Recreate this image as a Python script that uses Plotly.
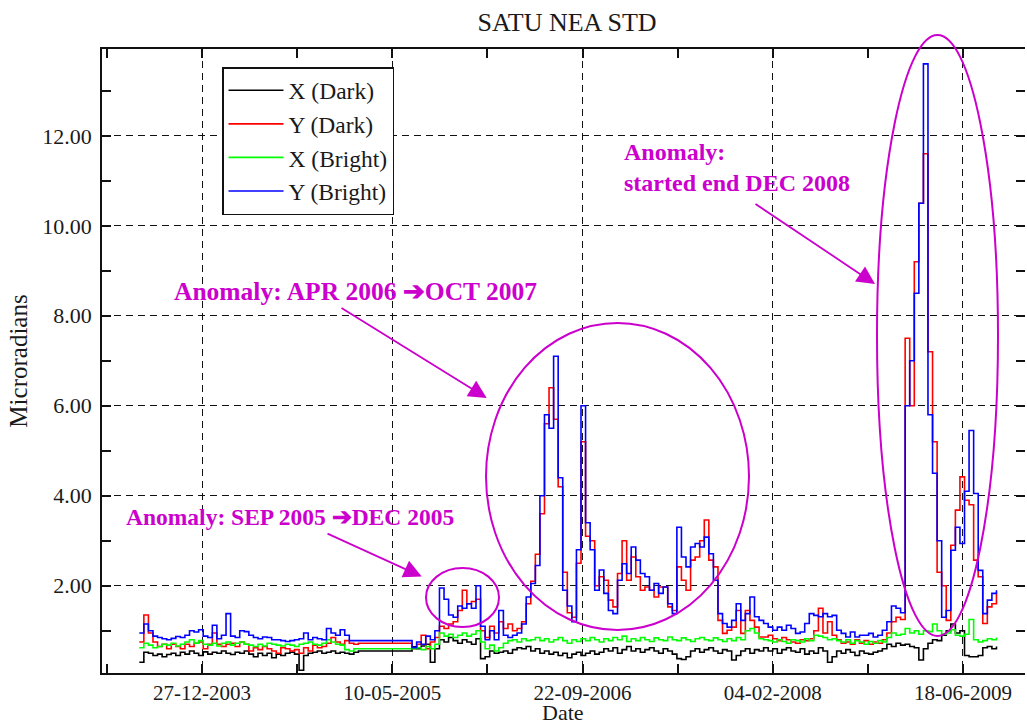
import pandas as pd
import plotly.graph_objects as go

# ---------------- data ----------------
# Sampling: every 12 days; segment A (before the data gap), segment B (after it)
seg_a_start = "2003-07-15"
seg_b_start = "2005-07-01"
step = "12D"

x_dark_a = [0.3,0.52,0.5,0.45,0.48,0.42,0.47,0.5,0.45,0.52,0.48,0.55,0.5,0.45,0.53,0.48,0.52,0.5,0.55,0.5,
            0.47,0.52,0.5,0.55,0.48,0.42,0.5,0.45,0.5,0.4,0.48,0.45,0.5,0.52,0.48,0.12,0.45,0.5,0.52,0.55,
            0.5,0.52,0.55,0.5,0.52,0.5,0.48,0.52,0.55]
y_dark_a = [0.75,1.35,0.95,0.75,0.65,0.7,0.6,0.7,0.65,0.6,0.7,0.65,0.72,0.75,0.6,0.7,0.95,0.7,0.65,0.7,
            0.72,0.65,0.75,0.7,0.55,0.62,0.58,0.65,0.6,0.55,0.5,0.62,0.6,0.55,0.58,0.5,0.62,0.55,0.68,0.62,
            0.65,0.72,0.85,0.75,0.7,0.78,0.72,0.7,0.72]
x_bright_a = [0.62,0.72,0.68,0.62,0.65,0.7,0.68,0.72,0.66,0.7,0.75,0.8,0.72,0.78,0.7,0.68,0.72,0.66,0.72,0.75,
              0.68,0.72,0.75,0.7,0.68,0.65,0.7,0.66,0.72,0.7,0.68,0.66,0.7,0.68,0.65,0.7,0.72,0.75,0.7,0.68,
              0.72,0.8,0.75,0.7,0.68,0.58,0.55,0.6,0.6]
y_bright_a = [0.95,1.15,1.0,0.88,0.85,0.82,0.8,0.83,0.87,0.85,0.9,1.0,0.97,1.02,0.88,0.85,1.12,0.82,0.9,1.38,
              0.88,0.85,1.0,0.98,0.9,0.85,0.82,0.86,0.85,0.8,0.8,0.78,0.76,0.78,0.8,0.82,0.95,0.8,0.85,0.82,
              0.8,1.05,0.95,0.9,1.02,0.9,0.78,0.78,0.78]

x_dark_b = [0.64,0.6,0.66,0.7,0.3,0.6,0.8,0.75,0.85,0.78,0.72,0.8,0.75,0.7,0.82,0.38,0.42,0.55,0.5,0.52,
            0.55,0.5,0.58,0.62,0.6,0.65,0.55,0.6,
            0.5,0.55,0.48,0.52,0.45,0.5,0.4,0.48,0.52,0.45,0.5,0.55,0.48,0.52,
            0.6,0.55,0.62,0.5,0.58,0.65,0.55,0.6,0.52,0.58,0.62,0.55,0.5,0.6,0.55,0.48,
            0.38,0.36,0.42,0.55,0.6,0.52,0.58,0.62,0.55,
            0.5,0.58,0.55,0.35,0.45,0.55,0.6,0.5,0.58,0.55,0.62,
            0.55,0.6,0.5,0.58,0.62,0.55,0.52,0.6,0.48,0.55,0.5,0.62,
            0.55,0.3,0.42,0.55,0.5,0.58,0.52,0.45,0.55,0.5,0.48,0.52,0.55,0.6,0.7,0.65,0.72,0.68,
            0.7,0.65,0.62,0.35,0.6,0.72,0.8,0.78,0.9,1.0,1.15,0.95,1.0,0.45,0.42,0.42,0.45,0.62,0.65,0.6,0.65]
y_dark_b = [0.6,0.7,0.9,0.6,0.75,0.85,1.1,1.05,1.15,1.2,1.45,1.9,1.6,1.65,1.7,1.0,0.85,1.1,0.95,1.2,
            1.05,1.15,1.0,1.05,1.2,1.6,2.1,2.7,
            3.6,5.6,6.4,5.7,4.2,2.3,1.4,1.3,2.5,5.2,3.1,3.0,2.0,2.2,
            2.12,1.68,1.53,2.27,3.0,2.12,2.64,2.2,1.9,1.97,1.9,1.75,1.97,1.97,1.53,1.45,
            2.42,2.12,1.9,2.57,2.64,3.0,3.46,2.57,2.42,
            1.23,0.94,1.01,1.08,1.45,0.94,1.45,1.23,1.08,0.86,0.86,
            0.9,0.82,0.78,0.85,0.8,0.75,0.72,0.8,0.78,0.82,1.0,1.5,
            0.95,1.2,0.9,0.8,0.72,0.75,0.7,0.8,0.72,0.78,0.7,0.75,0.72,0.8,0.95,1.2,1.3,1.25,
            7.5,6.0,9.2,10.5,11.6,7.2,5.2,2.3,2.0,1.23,2.9,3.68,4.42,3.9,3.8,2.57,2.2,1.16,1.53,1.6,1.83]
x_bright_b = [0.6,0.62,0.58,0.65,0.6,0.7,0.95,0.88,0.92,0.85,0.9,0.95,0.88,0.92,1.0,0.75,0.6,0.68,0.55,0.62,
              0.72,0.78,0.8,0.75,0.82,0.78,0.8,0.85,
              0.78,0.82,0.75,0.8,0.85,0.78,0.72,0.8,0.76,0.82,0.78,0.85,0.8,0.75,
              0.82,0.78,0.85,0.8,0.88,0.76,0.82,0.78,0.85,0.8,0.76,0.84,0.8,0.78,0.86,0.8,
              0.78,0.84,0.8,0.76,0.82,0.85,0.8,0.78,0.84,
              0.8,0.76,0.82,0.78,0.85,0.8,1.0,1.05,0.95,0.82,0.8,
              0.78,0.75,0.8,0.76,0.72,0.8,0.78,0.75,0.82,0.78,0.9,0.88,
              0.85,0.8,0.82,0.78,0.75,0.8,0.72,0.78,0.75,0.7,0.76,0.72,0.78,0.75,0.85,0.95,0.9,0.92,
              1.05,0.95,1.0,0.92,1.0,0.98,1.15,1.0,0.92,0.95,1.02,0.9,0.88,0.92,1.25,0.8,0.75,0.78,0.82,0.8,0.85]
y_bright_b = [0.62,0.75,0.7,0.88,0.8,1.0,1.95,1.7,1.35,1.3,1.55,1.5,1.6,1.5,2.0,1.1,0.8,1.0,0.8,1.45,
              0.9,0.85,0.9,0.95,1.15,1.75,2.05,2.45,
              4.0,5.8,5.5,7.1,4.4,1.9,1.55,1.2,2.8,6.0,3.4,2.8,1.9,2.35,
              1.83,1.45,1.38,2.12,2.49,2.27,2.86,2.57,2.27,2.2,1.9,2.05,1.83,1.97,1.6,1.38,
              3.3,2.64,2.42,2.86,2.94,2.86,3.08,2.71,2.12,
              1.38,1.16,1.08,1.23,1.6,1.23,1.38,1.75,1.31,1.23,1.16,
              1.08,1.01,1.08,1.01,1.12,1.05,0.94,0.97,1.16,1.38,1.34,1.31,
              1.38,1.31,1.34,1.01,0.94,0.86,0.97,0.86,0.9,0.9,0.94,0.86,0.9,1.01,1.2,1.55,1.5,1.4,
              6.0,7.0,8.5,10.5,13.6,5.8,4.5,3.0,1.3,1.45,2.79,3.3,2.94,4.1,5.45,4.05,2.34,1.38,1.68,1.83,1.9]

for s in (x_dark_a, y_dark_a, x_bright_a, y_bright_a):
    assert len(s) == len(x_dark_a), len(s)
for s in (x_dark_b, y_dark_b, x_bright_b, y_bright_b):
    assert len(s) == len(x_dark_b), len(s)

series_names = ["X (Dark)", "Y (Dark)", "X (Bright)", "Y (Bright)"]
series_colors = ["#000000", "#ff0000", "#00ff00", "#0000ff"]
series_values = [x_dark_a + x_dark_b, y_dark_a + y_dark_b,
                 x_bright_a + x_bright_b, y_bright_a + y_bright_b]

dates = list(pd.date_range(seg_a_start, periods=len(x_dark_a), freq=step)) + \
        list(pd.date_range(seg_b_start, periods=len(x_dark_b), freq=step))

x_range = ["2003-04-08", "2009-11-28"]
y_range = [0.06, 13.93]
tick0 = "2003-12-27"
DAY_MS = 86400000

# ---------------- figure ----------------
W, H = 1027, 726
L, R, T, B = 102, 1025, 49, 673
def fx(px): return (px - L) / (R - L)
def fy(py): return (B - py) / (B - T)

SERIF = "Liberation Serif"
MAG = "#cc00cc"
INK = "#1a1a1a"

fig = go.Figure()
for name, col, vals in zip(series_names, series_colors, series_values):
    fig.add_trace(go.Scatter(x=dates, y=vals, name=name, mode="lines",
                             line=dict(color=col, width=1.6, shape="hv")))
# helper trace for right-hand ticks
fig.add_trace(go.Scatter(x=[dates[0]], y=[None], yaxis="y2", showlegend=False,
                         hoverinfo="skip", mode="lines"))

grid = dict(showgrid=True, gridcolor="#111111", gridwidth=1.4, griddash="7px,5px")

fig.update_layout(
    width=W, height=H,
    margin=dict(l=L, r=W - R, t=T, b=H - B),
    paper_bgcolor="white", plot_bgcolor="white",
    font=dict(family=SERIF, size=22, color=INK),
    title=dict(text="SATU NEA STD", x=567 / W, xanchor="center",
               y=1 - 22 / H, yanchor="middle", font=dict(family=SERIF, size=26, color=INK)),
    xaxis=dict(type="date", range=x_range, tickmode="linear", tick0=tick0, dtick=500 * DAY_MS,
               tickformat="%d-%m-%Y", ticks="inside", ticklen=9, tickwidth=1.5, tickcolor="#111",
               showline=True, linecolor="#111", linewidth=1.8, mirror="ticks", automargin=False,
               minor=dict(ticks="inside", ticklen=9, tickwidth=1.5, tickcolor="#111",
                          dtick=250 * DAY_MS, tick0=tick0, showgrid=False),
               tickfont=dict(size=21), zeroline=False, **grid),
    yaxis=dict(range=y_range, tickmode="linear", tick0=0, dtick=2, tickformat=".2f",
               ticks="inside", ticklen=9, tickwidth=1.5, tickcolor="#111", automargin=False,
               showline=True, linecolor="#111", linewidth=1.8,
               minor=dict(ticks="inside", ticklen=9, tickwidth=1.5, tickcolor="#111",
                          dtick=1, tick0=0, showgrid=False),
               title=dict(text="Microradians", standoff=7, font=dict(size=25)),
               tickfont=dict(size=22), ticklabelstandoff=4, zeroline=False, **grid),
    yaxis2=dict(range=y_range, overlaying="y", side="right", anchor="x", showline=False,
                tickmode="linear", tick0=0, dtick=2, ticks="inside", ticklen=9, tickwidth=1.5,
                tickcolor="#111", showticklabels=False, showgrid=False, zeroline=False,
                automargin=False,
                minor=dict(ticks="inside", ticklen=9, tickwidth=1.5, tickcolor="#111",
                           dtick=1, tick0=0, showgrid=False)),
    legend=dict(x=fx(222), y=fy(67), xanchor="left", yanchor="top",
                bgcolor="white", bordercolor="#111", borderwidth=1.5,
                font=dict(family=SERIF, size=23.5, color=INK),
                tracegroupgap=0, itemwidth=55),
    showlegend=True,
)

# x-axis title placed as text just under the tick labels
fig.add_annotation(xref="paper", yref="paper", x=fx(563), y=fy(712), text="Date",
                   showarrow=False, xanchor="center", yanchor="middle",
                   font=dict(family=SERIF, size=22, color=INK))

# ellipses
ell = [(426, 499, 568, 627), (486, 749, 323, 630), (877, 998, 35, 636)]
for x0, x1, y0, y1 in ell:
    fig.add_shape(type="circle", xref="paper", yref="paper",
                  x0=fx(x0), x1=fx(x1), y0=fy(y1), y1=fy(y0),
                  line=dict(color=MAG, width=2))

# arrows (head, tail in pixels)
arrows = [((421.7, 576.5), (326, 533)), ((486.7, 398), (340, 307)), ((875, 284), (754, 203))]
for (hx, hy), (tx, ty) in arrows:
    fig.add_annotation(xref="paper", yref="paper", x=fx(hx), y=fy(hy), text="",
                       showarrow=True, ax=tx - hx, ay=ty - hy, axref="pixel", ayref="pixel",
                       arrowcolor=MAG, arrowwidth=1.8, arrowhead=2, arrowsize=2.0)

texts = [("<b>Anomaly: SEP 2005 ➔DEC 2005</b>", 124, 517, 23.5),
         ("<b>Anomaly: APR 2006 ➔OCT 2007</b>", 172, 291, 25.5),
         ("<b>Anomaly:<br>started end DEC 2008</b>", 622, 167, 24)]
for t, px, py, fs in texts:
    fig.add_annotation(xref="paper", yref="paper", x=fx(px), y=fy(py), text=t,
                       showarrow=False, xanchor="left", yanchor="middle", align="left",
                       font=dict(family=SERIF, size=fs, color=MAG))

fig.write_html("out.html")
